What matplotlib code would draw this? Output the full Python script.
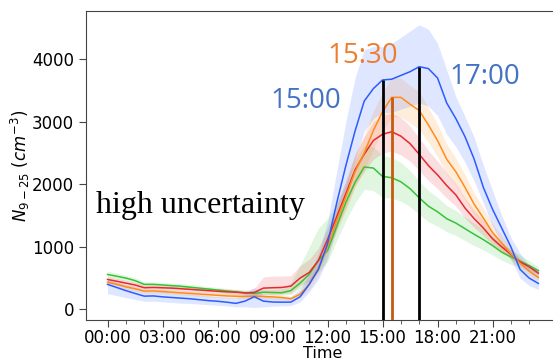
import numpy as np
import matplotlib
matplotlib.use("Agg")
import matplotlib.pyplot as plt

hours = np.arange(0, 24, 0.5)
tick_hours = [0, 3, 6, 9, 12, 15, 18, 21]
tick_labels = ["00:00", "03:00", "06:00", "09:00", "12:00", "15:00", "18:00", "21:00"]

blue_mean = [400, 350, 300, 255, 212, 215, 200, 190, 180, 170, 155, 140, 130, 115, 96, 132,
             203, 132, 118, 115, 116, 200, 400, 640, 1050, 1700, 2300, 2850, 3330, 3530, 3668, 3680,
             3740, 3800, 3880, 3850, 3700, 3300, 3050, 2760, 2400, 1950, 1600, 1300, 1000, 640, 500, 415]
blue_lo = [250, 220, 190, 160, 130, 130, 120, 110, 100, 95, 85, 75, 65, 55, 40, 40,
           30, 40, 50, 55, 60, 120, 280, 480, 800, 1300, 1900, 2400, 2850, 3050, 3150, 3150,
           3200, 3250, 3300, 3250, 3100, 2800, 2600, 2350, 2050, 1700, 1330, 1050, 800, 500, 380, 319]
blue_hi = [470, 430, 390, 350, 300, 300, 290, 280, 265, 250, 235, 220, 205, 195, 180, 250,
           350, 230, 200, 190, 200, 320, 560, 880, 1400, 2200, 3000, 3700, 4150, 4200, 4200, 4250,
           4350, 4450, 4550, 4480, 4250, 3830, 3400, 3080, 2750, 2300, 1900, 1500, 1150, 900, 700, 640]

orange_mean = [435, 400, 360, 330, 292, 295, 285, 275, 265, 255, 245, 235, 225, 215, 210, 205,
               212, 205, 200, 190, 170, 240, 400, 650, 1000, 1420, 1800, 2200, 2500, 2860, 3160, 3390,
               3390, 3280, 3180, 2950, 2700, 2400, 2200, 1950, 1680, 1460, 1230, 1060, 890, 740, 610, 510]
orange_lo = [395, 360, 320, 290, 255, 258, 248, 238, 228, 218, 208, 198, 188, 178, 172, 165,
             170, 165, 160, 150, 130, 190, 320, 540, 860, 1240, 1580, 1950, 2230, 2560, 2850, 3070,
             3080, 2980, 2880, 2670, 2440, 2160, 1980, 1750, 1500, 1300, 1090, 940, 790, 660, 545, 455]
orange_hi = [475, 440, 400, 370, 330, 332, 322, 312, 302, 292, 282, 272, 262, 252, 248, 245,
             255, 245, 240, 230, 210, 300, 490, 780, 1150, 1620, 2030, 2460, 2790, 3170, 3470, 3710,
             3700, 3580, 3480, 3230, 2960, 2640, 2420, 2150, 1860, 1620, 1370, 1180, 990, 820, 675, 565]

red_mean = [478, 450, 420, 390, 346, 350, 345, 340, 330, 320, 310, 300, 290, 280, 275, 262,
            270, 340, 346, 350, 372, 500, 590, 780, 1120, 1480, 1850, 2230, 2480, 2700, 2800, 2840,
            2770, 2650, 2480, 2300, 2150, 1980, 1830, 1620, 1450, 1300, 1130, 1000, 880, 760, 680, 580]
red_lo = [430, 405, 375, 345, 305, 308, 303, 298, 288, 278, 268, 258, 248, 238, 232, 222,
          225, 240, 240, 245, 260, 380, 450, 620, 950, 1280, 1630, 1980, 2200, 2400, 2500, 2530,
          2470, 2370, 2220, 2060, 1930, 1780, 1650, 1460, 1310, 1180, 1030, 920, 815, 710, 635, 540]
red_hi = [525, 495, 465, 435, 390, 392, 387, 382, 372, 362, 352, 342, 332, 322, 318, 305,
          330, 520, 531, 531, 540, 700, 800, 980, 1300, 1680, 2070, 2480, 2760, 3000, 3100, 3140,
          3070, 2930, 2740, 2540, 2370, 2180, 2010, 1780, 1590, 1420, 1230, 1080, 945, 810, 725, 620]

green_mean = [558, 530, 500, 460, 400, 400, 390, 380, 370, 355, 340, 325, 310, 295, 280, 265,
              255, 275, 270, 266, 300, 420, 560, 780, 940, 1330, 1710, 2030, 2276, 2260, 2126, 2105,
              2040, 1930, 1785, 1650, 1560, 1450, 1380, 1290, 1200, 1115, 1020, 915, 840, 770, 700, 620]
green_lo = [510, 485, 455, 420, 365, 365, 355, 345, 335, 320, 305, 290, 275, 260, 245, 230,
            215, 235, 230, 225, 240, 330, 430, 600, 760, 1100, 1420, 1700, 1920, 1900, 1790, 1780,
            1730, 1640, 1520, 1400, 1330, 1240, 1180, 1100, 1020, 950, 870, 785, 720, 670, 620, 560]
green_hi = [610, 580, 545, 505, 440, 440, 430, 420, 410, 395, 380, 365, 350, 335, 320, 305,
            300, 320, 320, 330, 420, 700, 1000, 1300, 1450, 1700, 2000, 2400, 2620, 2600, 2460, 2430,
            2350, 2220, 2050, 1900, 1790, 1660, 1580, 1480, 1380, 1280, 1170, 1045, 960, 870, 780, 680]

peak_blue_1 = 15.0
peak_orange = 15.5
peak_blue_2 = 17.0

fig = plt.figure(figsize=(5.53, 3.62), dpi=100)
ax = fig.add_axes([0.1555, 0.116, 0.857, 0.8535])

series = [
    (green_mean, green_lo, green_hi, "#35c435"),
    (red_mean, red_lo, red_hi, "#e8282d"),
    (orange_mean, orange_lo, orange_hi, "#ff8c1a"),
    (blue_mean, blue_lo, blue_hi, "#2a5cff"),
]
for m, lo, hi, c in series:
    ax.fill_between(hours, lo, hi, color=c, alpha=0.15, linewidth=0)
for m, lo, hi, c in series:
    ax.plot(hours, m, color=c, lw=1.1)

ax.set_xlim(-1.175, 24.675)
ax.set_ylim(-170, 4770)
ybot = ax.get_ylim()[0]

def val_at(arr, h):
    return arr[int(round(h * 2))]

ax.vlines(peak_blue_1, ybot, val_at(blue_mean, peak_blue_1), color="black", lw=2, zorder=5)
ax.vlines(peak_blue_2, ybot, val_at(blue_mean, peak_blue_2), color="black", lw=2, zorder=5)
ax.vlines(peak_orange, ybot, val_at(orange_mean, peak_orange), color="#c55a11", lw=2, zorder=5)

ax.text(10.8, 3222, "15:00", color="#4472c4", fontsize=20, family="Open Sans",
        ha="center", va="baseline")
ax.text(13.9, 3935, "15:30", color="#ed7d31", fontsize=20, family="Open Sans",
        ha="center", va="baseline")
ax.text(20.57, 3604, "17:00", color="#4472c4", fontsize=20, family="Open Sans",
        ha="center", va="baseline")
ax.text(-0.62, 1542, "high uncertainty", color="black", fontsize=23,
        family="Liberation Serif", ha="left", va="baseline")

ax.set_xticks(tick_hours)
ax.set_xticklabels(tick_labels)
ax.set_xticks(np.arange(0, 24, 1), minor=True)
ax.set_yticks([0, 1000, 2000, 3000, 4000])
ax.tick_params(axis="both", which="major", labelsize=12, length=5, color="#444444")
ax.tick_params(axis="x", which="major", pad=1.5)
ax.tick_params(axis="x", which="minor", length=3, color="#444444")
ax.set_xlabel("Time", fontsize=11.5, labelpad=-0.5)
ax.xaxis.label.set_va("top")
ax.set_ylabel(r"$N_{9-25}\ (cm^{-3})$", fontsize=12, labelpad=0)
for s in ax.spines.values():
    s.set_color("#444444")

fig.savefig("out.png", dpi=100)
